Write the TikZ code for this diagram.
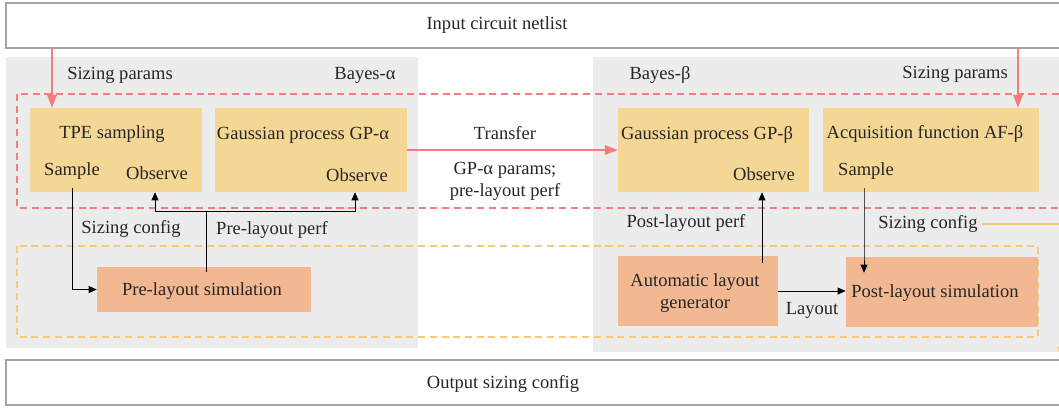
\documentclass[tikz,border=0pt]{standalone}
\usepackage{fontspec}
\setmainfont{Liberation Serif}
\usepackage{tikz}
\usetikzlibrary{arrows.meta,calc}

\definecolor{bgray}{HTML}{ECECEC}
\definecolor{frame}{HTML}{A4A4A8}
\definecolor{redl}{HTML}{F27D7D}
\definecolor{orl}{HTML}{F9C97A}
\definecolor{ybox}{HTML}{F5D795}
\definecolor{obox}{HTML}{F2B892}
\definecolor{txt}{HTML}{262626}

\tikzset{
    lbl/.style={text=txt,inner sep=1pt,font=\fontsize{15.8}{19}\selectfont},
    yellowbox/.style={fill=ybox,draw=none,minimum height=2.52cm},
    orangebox/.style={fill=obox,draw=none,minimum height=2.1cm},
    blk/.style={black,line width=0.8pt,-{Triangle[length=7pt,width=6pt]}},
    redarr/.style={redl,line width=1.6pt,-{Triangle[length=11pt,width=8pt]}},
}

\begin{document}
\begin{tikzpicture}[x=0.03cm,y=-0.03cm]
    \useasboundingbox (0,0) rectangle (1059,408);
    \clip (0,0) rectangle (1059,408);
    %Background
    \fill[white] (0,0) rectangle (1059,408);
    \fill[bgray] (6,57) rectangle (418,348);
    \fill[bgray] (593,57) rectangle (1080,352);
    %Input and output
    \draw[frame,line width=1.6pt,fill=white] (6,3) rectangle (1080,48);
    \node[lbl] (inp) at (497,25) {Input circuit netlist};
    \coordinate (inbot) at (0,48);
    \draw[frame,line width=1.6pt,fill=white] (6,360) rectangle (1080,405);
    \node[lbl] (outp) at (503,384) {Output sizing config};
    \coordinate (outtop) at (1062,360);
    %Dashed groups
    \draw[redl,dashed,line width=1.3pt,dash pattern=on 6pt off 4pt] (17,94) rectangle (1080,208);
    \draw[orl,dashed,line width=1.3pt,dash pattern=on 6pt off 4pt] (17,246) rectangle (1038,337);
    %Bayes-alpha
    \node[lbl] (szpa) at (120,75) {Sizing params};
    \node[lbl] (baya) at (365,75) {Bayes-α};
    \node[yellowbox,minimum width=5.16cm] (tpe) at (116,150) {};
    \node[lbl] (tpet) at (112,134) {TPE sampling};
    \node[lbl] (tpes) at (72,171) {Sample};
    \node[lbl] (tpeo) at (157,173) {Observe};
    \node[yellowbox,minimum width=5.73cm] (gpa) at (311,150) {};
    \node[lbl] (gpat) at (303,135) {Gaussian process GP-α};
    \node[lbl] (gpao) at (357,175) {Observe};
    \node[orangebox,minimum width=6.42cm,minimum height=1.35cm] (pre) at (204,289.5) {};
    \node[lbl] (pret) at (202,291) {Pre-layout simulation};
    \node[lbl] (szca) at (131,229) {Sizing config};
    \node[lbl] (prep) at (272,230) {Pre-layout perf};
    %Bayes-beta
    \node[lbl] (bayb) at (660,75) {Bayes-β};
    \node[lbl] (szpb) at (955,74) {Sizing params};
    \node[yellowbox,minimum width=5.73cm] (gpb) at (713.5,150) {};
    \node[lbl] (gpbt) at (707,135) {Gaussian process GP-β};
    \node[lbl] (gpbo) at (764,174) {Observe};
    \node[yellowbox,minimum width=6.48cm] (afb) at (931,150) {};
    \node[lbl] (afbt) at (925,134) {Acquisition function AF-β};
    \node[lbl] (afbs) at (866,171) {Sample};
    \node[orangebox,minimum width=4.8cm] (alg) at (698,291) {};
    \node[lbl,align=center] (algt) at (695,293) {Automatic layout\\generator};
    \node[orangebox,minimum width=5.76cm] (post) at (942,292) {};
    \node[lbl] (postt) at (935,293) {Post-layout simulation};
    \node[lbl] (posp) at (686,223) {Post-layout perf};
    \node[lbl] (szcb) at (928,224) {Sizing config};
    \node[lbl] (lay) at (812,310) {Layout};
    %Transfer
    \node[lbl] (trf) at (505,133) {Transfer};
    \node[lbl,align=center] (trfp) at (505,181) {GP-α params;\\pre-layout perf};
    %Arrows
    \draw[redarr] (inbot -| 52,0) -- (tpe.north -| 52,0);
    \draw[redarr] (inbot -| 1018,0) -- (afb.north -| 1018,0);
    \draw[redarr] (gpa.east) -- (gpb.west);
    \draw[blk] (72,188) |- (pre.west);
    \coordinate (pp) at (206,211);
    \draw[black,line width=0.8pt] (pre.north -| pp) ++(0,5) -- (pp);
    \draw[blk] (pp) -| (tpe.south -| 155,0);
    \draw[blk] (pp) -| (gpa.south -| 355,0);
    \draw[blk] (alg.north -| 762,0) ++(0,7) -- (gpb.south -| 762,0);
    \draw[blk] (864,188) -- (post.north -| 864,0) -- ++(0,16);
    \draw[blk] (alg.east) -- (post.west |- alg.east);
    \draw[orl,line width=1.6pt,-{Triangle[length=11pt,width=8pt]}] (982,224) -| (outtop);
\end{tikzpicture}
\end{document}
